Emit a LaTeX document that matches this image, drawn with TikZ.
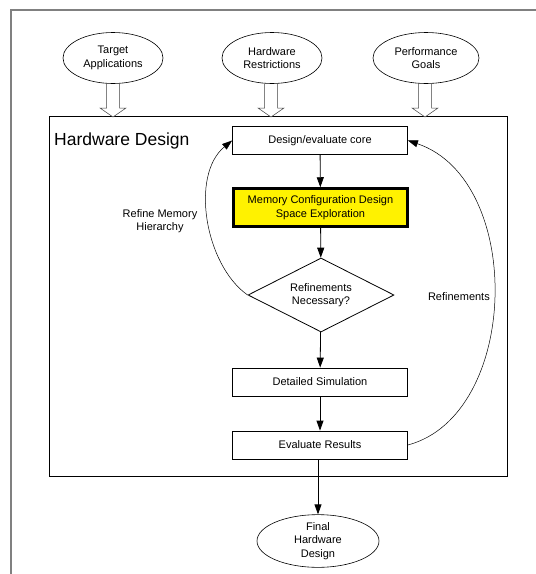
\documentclass[tikz,border=0pt]{standalone}
\usepackage{fontspec}
\setmainfont{Liberation Sans}
\usetikzlibrary{shapes.geometric,arrows.meta}
\begin{document}
\begin{tikzpicture}[x=1pt,y=-1pt,
  lbl/.style={font=\fontsize{11}{13.5}\selectfont, align=center},
  oval/.style={ellipse, draw, line width=0.6pt, lbl, inner sep=0pt},
  stepbox/.style={draw, line width=0.8pt, minimum width=175pt, minimum height=28pt, lbl, inner sep=0pt},
  flow/.style={-{Triangle[length=10pt,width=7pt]}, line width=0.8pt},
  loop/.style={-{Triangle[length=10pt,width=7pt]}, line width=0.5pt},
  hollow/.style={draw=black!75, line width=0.5pt, fill=white}
]
\useasboundingbox (0,0) rectangle (536,574);
% page frame
\draw[black!50, line width=2pt] (536,10) -- (11,10) -- (11,574);

% inputs
\node[oval, minimum width=100pt, minimum height=51pt] (ta) at (113,58) {Target\\Applications};
\node[oval, minimum width=100pt, minimum height=51pt] (hr) at (272,58) {Hardware\\Restrictions};
\node[oval, minimum width=106pt, minimum height=51pt] (pg) at (426,58) {Performance\\Goals};

% hardware design container
\node[draw, line width=1pt, minimum width=458pt, minimum height=360pt, inner sep=0pt] (hw) at (278,296) {};
\node[anchor=base west, font=\fontsize{17.5}{20}\selectfont, inner sep=0pt] (hwt) at (54,145) {Hardware Design};

% hollow input arrows
\foreach \n/\cx in {ta/113, hr/271, pg/425}{
  \draw[hollow] (\cx-6.5,84) -- (\cx-6.5,108) -- (\cx-13,108) -- (\cx,117)
    -- (\cx+13,108) -- (\cx+6.5,108) -- (\cx+6.5,84);
}

% flow steps
\node[stepbox] (core) at (320,140.5) {Design/evaluate core};
\node[stepbox, fill=yellow, line width=2.5pt, minimum height=38pt, minimum width=174pt] (mem) at (320.5,207.5) {Memory Configuration Design\\Space Exploration};
\node[diamond, draw, line width=0.8pt, lbl, minimum width=146pt, minimum height=74pt, inner sep=0pt, aspect=2] (ref) at (321,295) {Refinements\\Necessary?};
\node[stepbox] (sim) at (320,382) {Detailed Simulation};
\node[stepbox] (eval) at (320,445) {Evaluate Results};
\node[oval, minimum width=122pt, minimum height=52pt] (fin) at (318,541) {Final\\Hardware\\Design};

\draw[flow] (core) -- (mem);
\draw[flow] (mem) -- (ref);
\draw[flow] (ref) -- (sim);
\draw[flow] (sim) -- (eval);
\draw[flow] (eval.south -| fin.north) -- (fin.north);

% feedback loops
\draw[loop] (ref.west) .. controls (205,265) and (190,175) .. (core.west);
\draw[loop] (eval.east) .. controls (520,415) and (525,180) .. (core.east);
\node[lbl] (rmh) at (160,221) {Refine Memory\\Hierarchy};
\node[lbl, anchor=east, inner sep=1pt] (rft) at (491,297) {Refinements};
\end{tikzpicture}
\end{document}
